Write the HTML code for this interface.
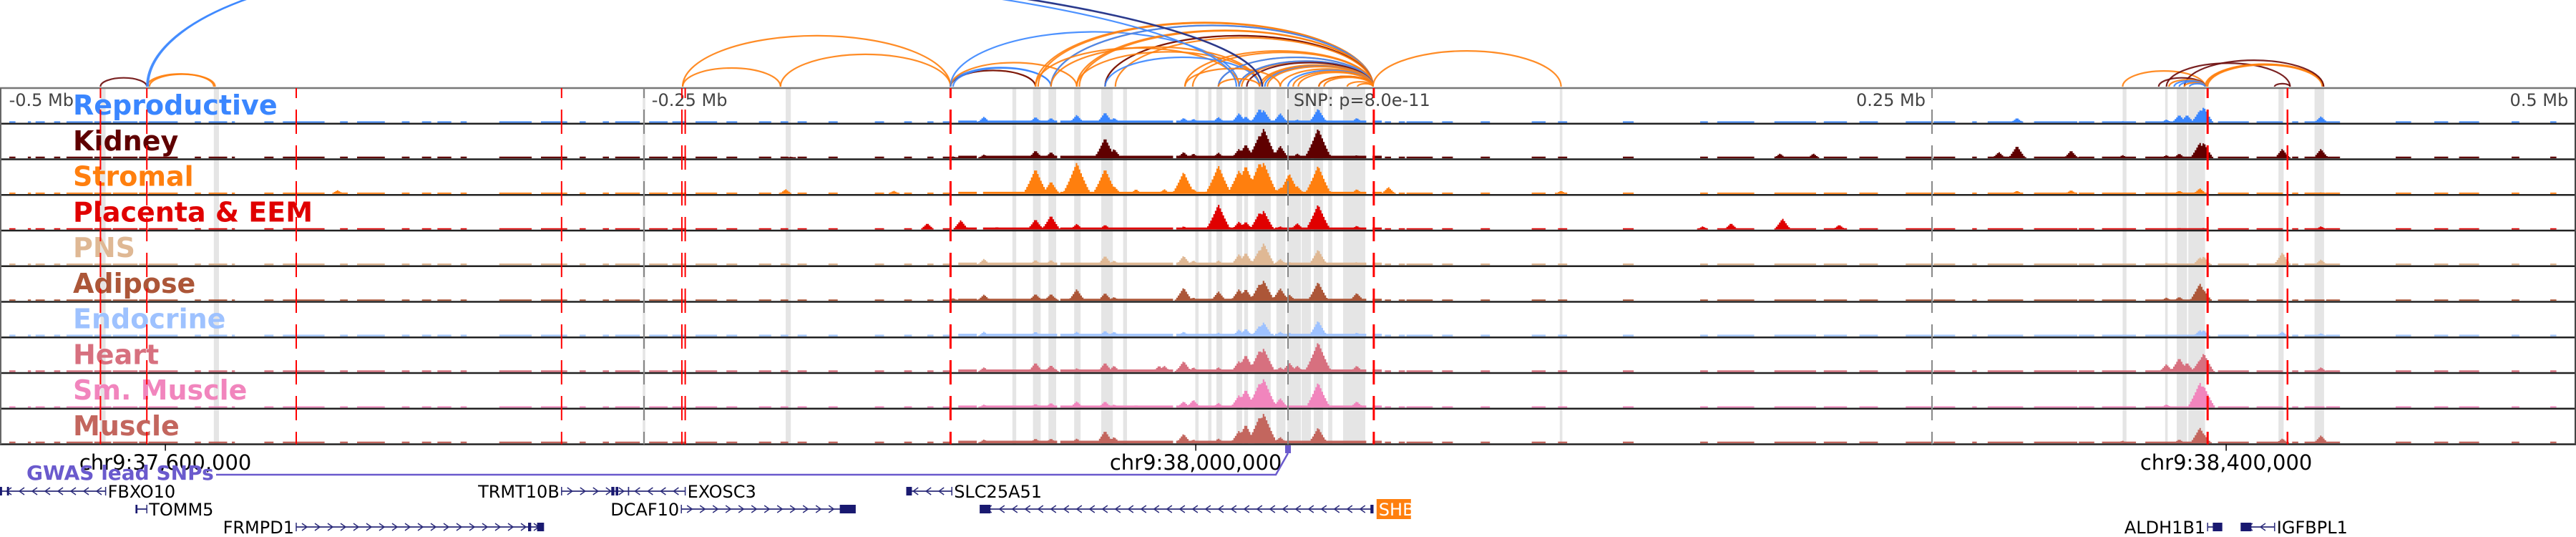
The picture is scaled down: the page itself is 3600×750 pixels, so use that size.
<!DOCTYPE html>
<html><head><meta charset="utf-8"><title>chr9 locus tracks</title>
<style>
html,body{margin:0;padding:0;background:#fff;}
svg{display:block;font-family:"DejaVu Sans","Liberation Sans",sans-serif;}
</style></head>
<body>
<svg id="chart" width="3600" height="750" viewBox="0 0 3600 750" xmlns="http://www.w3.org/2000/svg">
<g id="bands"></g>
<g id="signals"></g>
<g id="borders"></g>
<g id="labels"></g>
<g id="ticklines"></g>
<g id="redlines"></g>
<g id="arcs"></g>
<g id="axis"></g>
<g id="genes"></g>
</svg>
<script>
// ---------- data (positions in kb relative to lead SNP) ----------
const trackNames = ["Reproductive","Kidney","Stromal","Placenta & EEM","PNS","Adipose","Endocrine","Heart","Sm. Muscle","Muscle"];
const trackColors = ["#3a86ff","#5f0000","#ff7f0e","#e00000","#dfb894","#ac5638","#9ec2ff","#d7707f","#f185bd","#c3665e"];
const trackBase = [0.04,0.05,0.04,0.04,0.05,0.04,0.05,0.05,0.04,0.05];

const baseSegs = [[-496,-494],[-489,-488],[-486,-483],[-479,-477],[-474,-464],[-463,-457],[-456,-447],[-446,-443],[-442,-431],[-424,-422],[-419,-412],[-410,-409],[-397,-394],[-390,-374],[-368,-365],[-361,-351],[-344,-341],[-336,-333],[-330,-325],[-321,-319],[-306,-294],[-290,-280],[-275,-273],[-266,-264],[-261,-252],[-248,-241],[-239,-234],[-230,-222],
[-218,-214],[-205,-201],[-197,-194],[-190,-187],[-178,-175],[-160,-157],[-149,-146],[-140,-138],[-134,-131],
[-128,-121],[-118,-90],[-88,-45],[-43,-6],[-5,30],[33,36],[38,40],[43,45],[46,56],
[60,64],[75,78],[95,100],[105,108],[130,134],[160,163],[167,181],[189,205],[208,217],[222,229],[240,250],[251,259],[266,267],[272,285],[290,306],
[307,313],[316,329],[333,355],[361,373],[376,386],[390,392],[395,402],[403,408],[430,436],[445,450],[455,462],[475,478],[490,492]];

const peakPos = [-127,-118,-113,-98,-92,-82,-71,-67.5,-59,-50,-48,-40.5,-36.7,-27,-19,-16.4,-11,-9.4,-3,0.5,3.6,11.7,23,26.7,39];
const rightPos = [324,341,346,349,354,355.5,386,401];

const reproPk   = [0,.19,0,.18,.15,.25,.33,.15,0,0,0,.15,.12,.18,.3,.2,.45,.4,.3,0,.1,.45,0,.15,0];
const kidneyPk  = [0,.12,0,.25,.2,.05,.65,.3,0,0,0,.2,.15,.18,.3,.45,.75,.95,.4,0,.15,.95,0,.1,0];
const stromalPk = [0,0,0,.8,.4,1.0,.8,.25,.15,0,.15,.7,.15,.9,.75,.9,1.0,1.0,.2,.65,.25,.9,0,.15,.22];
const placentaPk= [.3,0,.08,.33,.45,.18,.15,0,0,0,0,.1,0,.8,.25,.25,.55,.6,.1,0,.2,.8,0,.12,0];
const pnsPk     = [0,.2,0,.17,.17,.08,.3,.15,0,0,0,.3,.15,.15,.35,.4,.5,.7,.2,.1,0,.5,0,.1,0];
const adiposePk = [0,.2,0,.22,.22,.37,.25,.12,0,0,0,.42,.1,.3,.37,.38,.55,.65,.4,.2,0,.6,0,.25,0];
const endoPk    = [0,.15,0,.15,.08,.15,.18,.15,0,0,0,.15,.08,.12,.22,.25,.35,.45,.15,.12,0,.5,0,.12,0];
const heartPk   = [0,.15,0,.3,.22,.12,.3,.2,0,.2,.2,.35,.15,.15,.35,.55,.7,.75,.15,.3,.2,.95,0,.2,0];
const smMusPk   = [0,.1,0,.12,.15,.2,.2,.1,.08,0,0,.2,.25,.15,.4,.58,.8,.92,.3,0,.05,.8,0,.2,0];
const musclePk  = [0,.12,0,.15,.15,.15,.4,.2,0,0,0,.3,.12,.15,.4,.6,.85,.95,.2,0,0,.5,0,.05,0];
const midPeaks = [reproPk,kidneyPk,stromalPk,placentaPk,pnsPk,adiposePk,endoPk,heartPk,smMusPk,musclePk];

const reproR   = [.05,.1,.25,.25,.4,.5,0,.2];
const kidneyR  = [.1,.1,.15,0,.5,.5,.3,.3];
const stromalR = [0,0,.1,0,.18,0,0,.05];
const placentaR= [0,0,.05,0,0,.05,0,.1];
const pnsR     = [0,.08,0,0,.25,.28,.4,.18];
const adiposeR = [0,.1,.12,0,.55,.35,0,0];
const endoR    = [0,0,0,0,.2,.2,.15,.1];
const heartR   = [0,.25,.45,.3,.4,.6,0,.15];
const smMusR   = [0,.1,0,0,.8,.7,0,0];
const muscleR  = [.08,.05,.12,0,.5,.3,.15,.25];
const rightPeaks = [reproR,kidneyR,stromalR,placentaR,pnsR,adiposeR,endoR,heartR,smMusR,muscleR];

const extraPeaks = [[2,-369,.12],[2,-195,.15],[2,-153,.1],[1,-193,.05],[3,-140,.2],[3,161,.1],[3,172,.2],[3,192,.35],[3,214,.15],[1,191,.15],[1,204,.15],[1,283,.4],[1,276,.2],[1,304,.25],[0,283,.15],[2,283,.1],[2,304,.12],[2,106,.1],[4,-195,.05],[1,-130,.06],[5,-130,.08],[8,-126,.06],[0,-126,.05]];

const bandRanges = [[-461,-459],[-417,-415],[-250.5,-249.5],[-195,-193],[-107,-105.5],[-99,-96],[-93,-90],[-83,-80.5],[-72.5,-68],[-64,-62.5],[-36,-34.7],[-31,-29.7],[-27.8,-25.5],[-20,-17.8],[-17,-15.5],[-13,-6.7],[-4.5,-1],[-0.3,5],[5.3,8.9],[10,13.6],[15.6,17.2],[21.4,30],[105.5,106.5],[324,325.5],[340.5,341.5],[345,349],[349.5,356],[384.5,386.5],[398.5,400],[400,402.2]];

const redLines = [[-461,2],[-443,2],[-385,2],[-282,2],[-235.3,2],[-234,2],[-131,3],[33.3,3],[357,3],[388,2.5]];
const scaleTicks = [-250,0,250];
const scaleLabels = [["-0.5 Mb",-496.5,"start"],["-0.25 Mb",-247,"start"],["SNP: p=8.0e-11",2.2,"start"],["0.25 Mb",247.5,"end"],["0.5 Mb",497,"end"]];

// arcs: [startKb, endKb, colorKey, part]  part: "f" full, "l" left half, "r" right half
const arcList = [[-461,-443,"k","f"],[-443,-417,"o","f"],[-442,-416.5,"o","f"],[-443,-197,"b","l"],[-442.5,-196,"b","l"],
[-235,-197,"o","f"],[-197,-131,"o","f"],[-235,-131,"o","f"],
[-131,-98,"o","f"],[-131,-98,"k","f"],[-131,-92,"b","f"],[-130,-92,"b","f"],[-131,-82,"o","f"],[-131,-19,"b","f"],
[-98,33,"o","f"],[-97,33,"o","f"],[-92,33,"o","f"],[-92,33,"b","f"],[-82,33,"o","f"],[-81,33,"o","f"],[-71,33,"o","f"],[-71,33,"k","f"],[-67,33,"o","f"],[-98,-19,"o","f"],[-92,-11,"o","f"],[-82,-11,"o","f"],[-71,-11,"b","f"],
[-40,33,"o","f"],[-37,33,"o","f"],[-27,33,"o","f"],[-27,33,"b","f"],[-19,33,"o","f"],[-18,33,"o","f"],[-19,33,"b","f"],[-16,33,"k","f"],[-11,33,"o","f"],[-10,33,"o","f"],[-9,33,"b","f"],[-8,33,"o","f"],[-3,33,"o","f"],[0,33,"b","f"],[2,33,"o","f"],[4,33,"o","f"],[12,33,"k","f"],[12,33,"o","f"],[14,33,"o","f"],[23,33,"o","f"],[27,33,"o","f"],
[-40,-3,"o","f"],[-27,-11,"o","f"],[33,106,"o","f"],
[-800,-20,"b","r"],[-780,-10,"b","r"],[-790,-10,"n","r"],
[324,356,"o","f"],[341,389,"k","f"],[356,402,"o","f"],[356.5,402,"o","f"],[357,401.5,"o","f"],[348,402,"k","f"],[338,356,"k","f"],[342,356,"o","f"],[344,356,"b","f"],[346,356,"b","f"],[348,356,"o","f"],[350,356,"b","f"],[383,389,"k","f"]];
const arcColors = {o:"#ff7f0e",b:"#3a86ff",k:"#6b0a0a",n:"#2a2f7a"};

const genes = [
 ["FBXO10",-500,-459,0,"-","right",[[-500,-499.2],[-497.3,-496.5]]],
 ["TOMM5",-447.2,-443,1,"-","right",[[-447.2,-446.8]]],
 ["FRMPD1",-385,-289,2,"+","left",[[-295,-293.8],[-291.5,-289]]],
 ["TRMT10B",-282,-256,0,"+","left",[[-262.7,-261.5],[-261,-260]]],
 ["EXOSC3",-256,-234,0,"-","right",[]],
 ["DCAF10",-235.5,-168,1,"+","left",[[-174,-168]]],
 ["SLC25A51",-148,-130.5,0,"-","right",[[-148,-146]]],
 ["SHB",-119.5,33,1,"-","right",[[-119.5,-115.5],[32,33]]],
 ["ALDH1B1",357,362.5,2,"+","left",[[359,362.5]]],
 ["IGFBPL1",370,383,2,"-","right",[[370,374]]]
];
const axisTicks = [-435.8,-35.8,364.2];
const axisLabels = ["chr9:37,600,000","chr9:38,000,000","chr9:38,400,000"];
const snpKb = 0;

// ---------- scales ----------
const PXKB = 3.6, X0 = 1800;
function xs(kb){ return X0 + kb*PXKB; }
const TOP = 123, TH = 49.75, NT = 10, BOT = TOP + TH*NT;
function trackBottom(i){ return TOP + TH*(i+1) - 1.5; }
function ys(i, f){ return trackBottom(i) - f*44; }

const NS = "http://www.w3.org/2000/svg";
function mk(tag, attrs, parent){ const e=document.createElementNS(NS,tag); for(const k in attrs) e.setAttribute(k,attrs[k]); parent.appendChild(e); return e; }

const gB = document.getElementById("bands");
bandRanges.forEach(r=>{
  const e = mk("rect",{x:xs(r[0]),y:TOP,width:Math.max(1,(r[1]-r[0])*PXKB),height:BOT-TOP,fill:"#e5e5e5"},gB);
  
  
});

const gS = document.getElementById("signals");
const BIN = 0.6;
const KMIN = -500, KMAX = 500;
const NB = Math.round((KMAX-KMIN)/BIN);
for(let t=0;t<NT;t++){
  const v = new Float32Array(NB);
  baseSegs.forEach(s=>{
    const mid = (s[0]>-130 && s[1]<40);
    for(let b=Math.floor((s[0]-KMIN)/BIN); b<Math.ceil((s[1]-KMIN)/BIN); b++) if(b>=0&&b<NB) v[b]=Math.max(v[b], trackBase[t]*(mid?1.6:1));
  });
  const addPeak=(kb,h)=>{
    if(h<=0) return;
    const w = 2.2 + 3.5*h;
    for(let b=Math.floor((kb-w-KMIN)/BIN); b<=Math.ceil((kb+w-KMIN)/BIN); b++){
      if(b<0||b>=NB) continue;
      const c = KMIN + (b+0.5)*BIN;
      const d = Math.abs(c-kb)/w;
      if(d<1){ const val = h*Math.pow(1-d,1.2); if(val>v[b]) v[b]=val; }
    }
  };
  peakPos.forEach((p,j)=>addPeak(p, midPeaks[t][j]));
  rightPos.forEach((p,j)=>addPeak(p, rightPeaks[t][j]));
  extraPeaks.forEach(e=>{ if(e[0]===t) addPeak(e[1],e[2]); });
  let d = "";
  const yb = trackBottom(t);
  let b=0;
  while(b<NB){
    if(v[b]<0.01){ b++; continue; }
    const x0 = xs(KMIN + b*BIN);
    d += "M"+x0.toFixed(1)+","+yb;
    while(b<NB && v[b]>=0.01){
      const xa = xs(KMIN+b*BIN), xb = xs(KMIN+(b+1)*BIN), y = Math.min(ys(t,v[b]), yb-1.5);
      d += "L"+xa.toFixed(1)+","+y.toFixed(1)+"L"+xb.toFixed(1)+","+y.toFixed(1);
      b++;
    }
    d += "L"+xs(KMIN+b*BIN).toFixed(1)+","+yb+"Z";
  }
  const p = mk("path",{d:d,fill:trackColors[t]},gS);
  
  
}

const gBo = document.getElementById("borders");
for(let i=0;i<=NT;i++){
  const y = TOP + TH*i;
  const l = mk("line",{x1:0,x2:3600,y1:y,y2:y,stroke:i===0?"#777":"#222","stroke-width":2.5},gBo);
  
  
}
const lb = mk("line",{x1:1,x2:1,y1:TOP,y2:BOT,stroke:"#666","stroke-width":2},gBo);


const rb = mk("line",{x1:3599,x2:3599,y1:TOP,y2:BOT,stroke:"#444","stroke-width":2},gBo);



const gL = document.getElementById("labels");
trackNames.forEach((n,i)=>{
  const e = mk("text",{x:102,y:TOP+TH*i+37,"font-size":38,"font-weight":"bold",fill:trackColors[i]},gL);
  e.textContent = n;
  
  
});

const gT = document.getElementById("ticklines");
scaleTicks.forEach(k=>{
  const l = mk("line",{x1:xs(k),x2:xs(k),y1:TOP,y2:BOT,stroke:"#888","stroke-width":2,"stroke-dasharray":"34 16","stroke-dashoffset":"20"},gT);
  
  
});
scaleLabels.forEach(s=>{
  const e = mk("text",{x:xs(s[1]),y:148,"font-size":24,fill:"#444","text-anchor":s[2]},gT);
  e.textContent = s[0];
  
  
});

const gR = document.getElementById("redlines");
redLines.forEach(r=>{
  const l = mk("line",{x1:xs(r[0]),x2:xs(r[0]),y1:TOP,y2:BOT,stroke:"#ff0000","stroke-width":r[1],"stroke-dasharray":"34 16","stroke-dashoffset":"20"},gR);
  
  
});

const gA = document.getElementById("arcs");
const ABASE = 121;
arcList.forEach(a=>{
  const x1 = xs(a[0]), x2 = xs(a[1]);
  const span = x2-x1;
  const h = span<=900 ? 0.19*span : 0.19*900 + 0.01*(span-900);
  const rx = (span/2).toFixed(1), ry = h.toFixed(1), xc = ((x1+x2)/2).toFixed(1), yt = (ABASE-h).toFixed(1);
  let d;
  if(a[3]==="l") d = "M"+x1.toFixed(1)+","+ABASE+" A"+rx+","+ry+" 0 0 1 "+xc+","+yt;
  else if(a[3]==="r") d = "M"+xc+","+yt+" A"+rx+","+ry+" 0 0 1 "+x2.toFixed(1)+","+ABASE;
  else d = "M"+x1.toFixed(1)+","+ABASE+" A"+rx+","+ry+" 0 0 1 "+x2.toFixed(1)+","+ABASE;
  const p = mk("path",{d:d,fill:"none",stroke:arcColors[a[2]],"stroke-width":a[2]==="n"?2.5:2.2,opacity:0.9},gA);
  
  
});

const gX = document.getElementById("axis");
axisTicks.forEach((k,i)=>{
  const l = mk("line",{x1:xs(k),x2:xs(k),y1:BOT,y2:BOT+9,stroke:"#000","stroke-width":1.5},gX);
  
  
  const t = mk("text",{x:xs(k),y:656,"font-size":29,"text-anchor":"middle",fill:"#000"},gX);
  t.textContent = axisLabels[i];
  
  
});
const gw = mk("text",{x:37,y:670,"font-size":28,"font-weight":"bold",fill:"#6a5acd"},gX);
gw.textContent = "GWAS lead SNPs";


const sx = xs(snpKb);
const gl = mk("polyline",{points:"302,663 "+(sx-17)+",663 "+(sx)+",633",fill:"none",stroke:"#6a5acd","stroke-width":2.5},gX);


const gm = mk("rect",{x:sx-4,y:622,width:8,height:11,fill:"#6a5acd"},gX);



const gG = document.getElementById("genes");
const rowY = [686,711,736];
genes.forEach(g=>{
  const [name,s,e,row,strand,side,exons] = g;
  const y = rowY[row], x1 = xs(s), x2 = xs(e);
  const grp = mk("g",{},gG);
  
  
  mk("line",{x1:x1,x2:x2,y1:y,y2:y,stroke:"#2b2b7a","stroke-width":1.8},grp);
  mk("line",{x1:x1,x2:x1,y1:y-6,y2:y+6,stroke:"#2b2b7a","stroke-width":1.5},grp);
  mk("line",{x1:x2,x2:x2,y1:y-6,y2:y+6,stroke:"#2b2b7a","stroke-width":1.5},grp);
  let d="";
  for(let cx=x1+12; cx<x2-4; cx+=18){
    if(strand==="+") d+="M"+(cx-4)+","+(y-5)+"L"+(cx+3)+","+y+"L"+(cx-4)+","+(y+5);
    else d+="M"+(cx+4)+","+(y-5)+"L"+(cx-3)+","+y+"L"+(cx+4)+","+(y+5);
  }
  mk("path",{d:d,fill:"none",stroke:"#2b2b7a","stroke-width":1.5},grp);
  exons.forEach(ex=>{ mk("rect",{x:xs(ex[0]),y:y-6,width:Math.max(2,(ex[1]-ex[0])*PXKB),height:12,fill:"#191970"},grp); });
  if(name==="SHB"){
    mk("rect",{x:x2+5,y:y-14,width:48,height:28,fill:"#ff7f0e"},grp);
    const t = mk("text",{x:x2+8,y:y+9,"font-size":24,fill:"#fff"},grp); t.textContent=name;
  } else {
    const t = mk("text",{x:side==="right"?x2+3:x1-3,y:y+9,"font-size":24,fill:"#000","text-anchor":side==="right"?"start":"end"},grp);
    t.textContent=name;
  }
});
</script>
</body></html>
